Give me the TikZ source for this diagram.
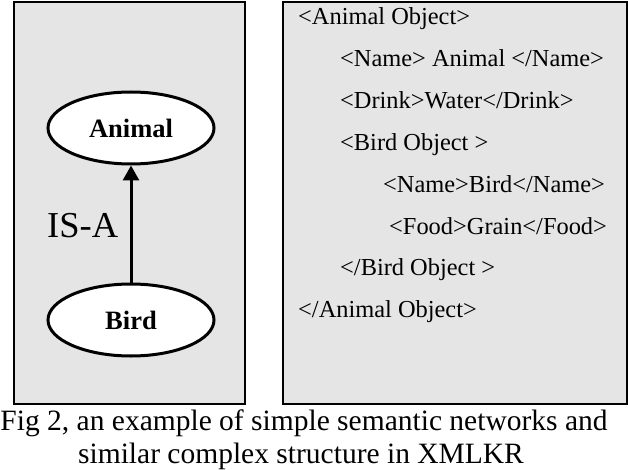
\documentclass[tikz,border=0pt]{standalone}
\usepackage{fontspec}
\setmainfont{Liberation Serif}
\usetikzlibrary{arrows.meta,shapes.geometric}
\definecolor{panelgray}{RGB}{229,229,229}
\begin{document}
\begin{tikzpicture}[x=1pt,y=-1pt,
  panel/.style={draw=black,line width=2.4pt,fill=panelgray},
  concept/.style={ellipse,draw=black,line width=3pt,fill=white,minimum width=166pt,minimum height=72pt,inner sep=0pt,font=\fontsize{26.5}{30}\selectfont\bfseries},
  xmlline/.style={anchor=base west,inner sep=0pt,font=\fontsize{24.4}{28}\selectfont},
  captionline/.style={anchor=base,inner sep=0pt,font=\fontsize{29.5}{33}\selectfont},
  isa/.style={line width=3pt,-{Triangle[width=16pt,length=15pt]}}]
\useasboundingbox (0,0) rectangle (628,470);
% panels
\draw[panel] (14,2) rectangle (245,404);
\draw[panel] (283,2) rectangle (627,404);
% semantic network
\node[concept] (animal) at (131,128) {Animal};
\node[concept] (bird) at (131,320) {Bird};
\draw[isa] (bird.north) -- (animal.south);
\node[anchor=base west,inner sep=0pt,font=\fontsize{36.5}{40}\selectfont] (isalabel) at (47,237) {IS-A};
% XML structure
\node[xmlline] (x1) at (298,24.5) {<Animal Object>};
\node[xmlline] (x2) at (340,66.4) {<Name> Animal </Name>};
\node[xmlline] (x3) at (340,108.3) {<Drink>Water</Drink>};
\node[xmlline] (x4) at (340,150.2) {<Bird Object >};
\node[xmlline] (x5) at (383,192.1) {<Name>Bird</Name>};
\node[xmlline] (x6) at (389,234.0) {<Food>Grain</Food>};
\node[xmlline] (x7) at (340,275.9) {</Bird Object >};
\node[xmlline] (x8) at (298,317.8) {</Animal Object>};
% caption
\node[captionline] (cap1) at (304,430) {Fig 2, an example of simple semantic networks and};
\node[captionline] (cap2) at (301,463) {similar complex structure in XMLKR};
\end{tikzpicture}
\end{document}
